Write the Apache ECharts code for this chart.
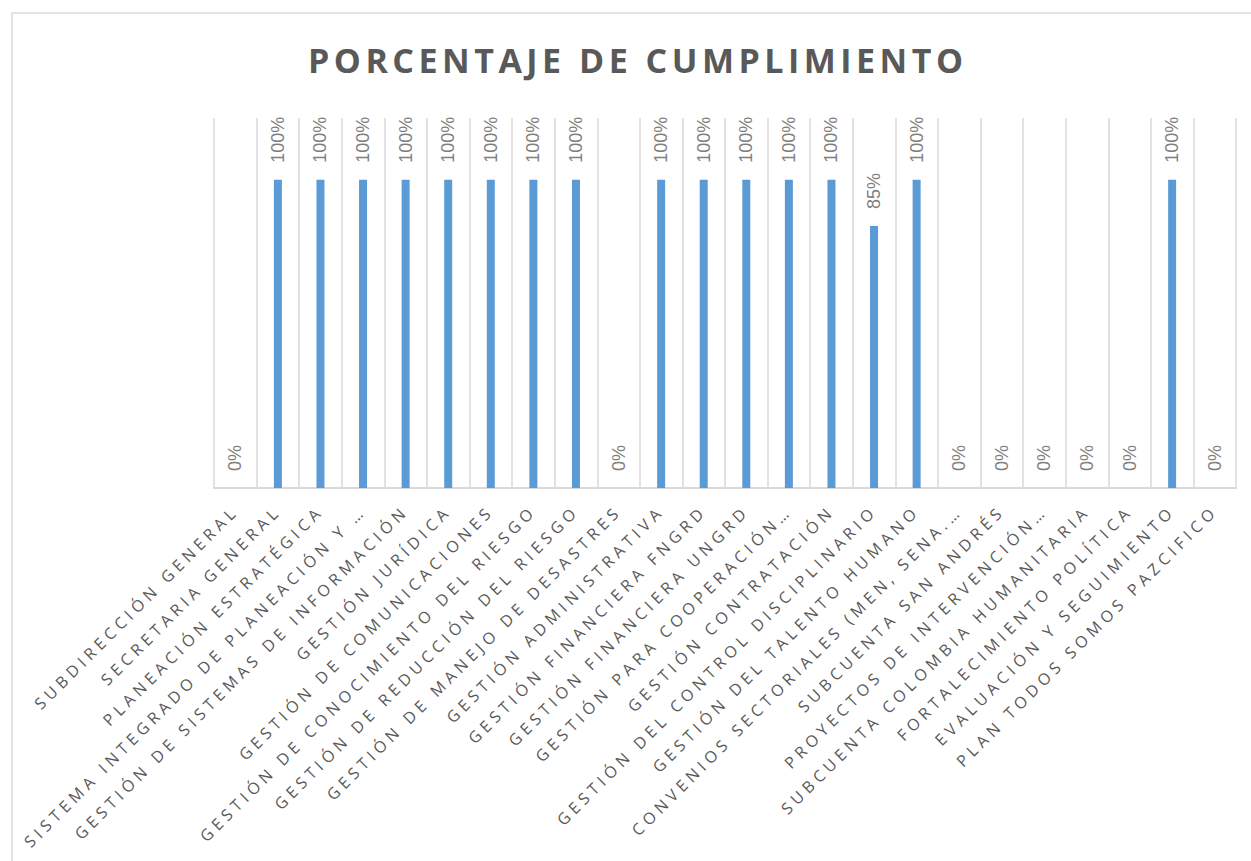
<!DOCTYPE html>
<html>
<head>
<meta charset="utf-8">
<script src="https://cdn.jsdelivr.net/npm/echarts@6/dist/echarts.min.js"></script>
<style>
html, body { margin: 0; padding: 0; background: #ffffff; }
#chart { width: 1251px; height: 861px; }
#chart text[style*="Open Sans"] { letter-spacing: 4.6px; }
#chart text[style*="Open Sans"][style*="bold"] { letter-spacing: 4.5px; }
</style>
</head>
<body>
<div id="chart"></div>
<script>
const categories = [
  'SUBDIRECCIÓN GENERAL',
  'SECRETARIA GENERAL',
  'PLANEACIÓN ESTRATÉGICA',
  'SISTEMA INTEGRADO DE PLANEACIÓN Y …',
  'GESTIÓN DE SISTEMAS DE INFORMACIÓN',
  'GESTIÓN JURÍDICA',
  'GESTIÓN DE COMUNICACIONES',
  'GESTIÓN DE CONOCIMIENTO DEL RIESGO',
  'GESTIÓN DE REDUCCIÓN DEL RIESGO',
  'GESTIÓN DE MANEJO DE DESASTRES',
  'GESTIÓN ADMINISTRATIVA',
  'GESTIÓN FINANCIERA FNGRD',
  'GESTIÓN FINANCIERA UNGRD',
  'GESTIÓN PARA COOPERACIÓN…',
  'GESTIÓN CONTRATACIÓN',
  'GESTIÓN DEL CONTROL DISCIPLINARIO',
  'GESTIÓN DEL TALENTO HUMANO',
  'CONVENIOS SECTORIALES (MEN, SENA.…',
  'SUBCUENTA SAN ANDRÉS',
  'PROYECTOS DE INTERVENCIÓN…',
  'SUBCUENTA COLOMBIA HUMANITARIA',
  'FORTALECIMIENTO POLÍTICA',
  'EVALUACIÓN Y SEGUIMIENTO',
  'PLAN TODOS SOMOS PAZCIFICO'
];
const cumplimiento = [0, 100, 100, 100, 100, 100, 100, 100, 100, 0, 100, 100, 100, 100, 100, 85, 100, 0, 0, 0, 0, 0, 100, 0];
const titleText = 'PORCENTAJE DE CUMPLIMIENTO';

const chart = echarts.init(document.getElementById('chart'), null, { renderer: 'svg' });
chart.setOption({
  animation: false,
  backgroundColor: '#ffffff',
  title: {
    text: titleText,
    left: 308,
    top: 43,
    padding: 0,
    textStyle: { fontFamily: 'Open Sans', fontWeight: 'bold', fontSize: 34, color: '#595959' }
  },
  graphic: [{
    type: 'rect',
    shape: { x: 12, y: 13, width: 1300, height: 900 },
    style: { fill: 'none', stroke: '#d9d9d9', lineWidth: 1.5 },
    silent: true
  }],
  grid: { left: 214, right: 15, top: 118, bottom: 373 },
  xAxis: {
    type: 'category',
    data: categories,
    boundaryGap: true,
    axisLine: { show: true, lineStyle: { color: '#d9d9d9', width: 2 } },
    axisTick: { show: false },
    splitLine: { show: true, lineStyle: { color: '#d9d9d9', width: 1.5 } },
    axisLabel: {
      interval: 0,
      rotate: 45,
      margin: 20,
      fontFamily: 'Open Sans',
      fontSize: 16,
      color: '#595959'
    }
  },
  yAxis: {
    type: 'value',
    min: 0,
    max: 120,
    show: false,
    splitLine: { show: false }
  },
  series: [{
    type: 'bar',
    data: cumplimiento,
    barWidth: 8,
    itemStyle: { color: '#5b9bd5' },
    label: {
      show: true,
      position: 'top',
      distance: 17,
      rotate: 90,
      align: 'left',
      verticalAlign: 'middle',
      formatter: '{c}%',
      fontFamily: 'Liberation Sans',
      fontSize: 18,
      color: '#7f7f7f'
    }
  }]
});
</script>
</body>
</html>
